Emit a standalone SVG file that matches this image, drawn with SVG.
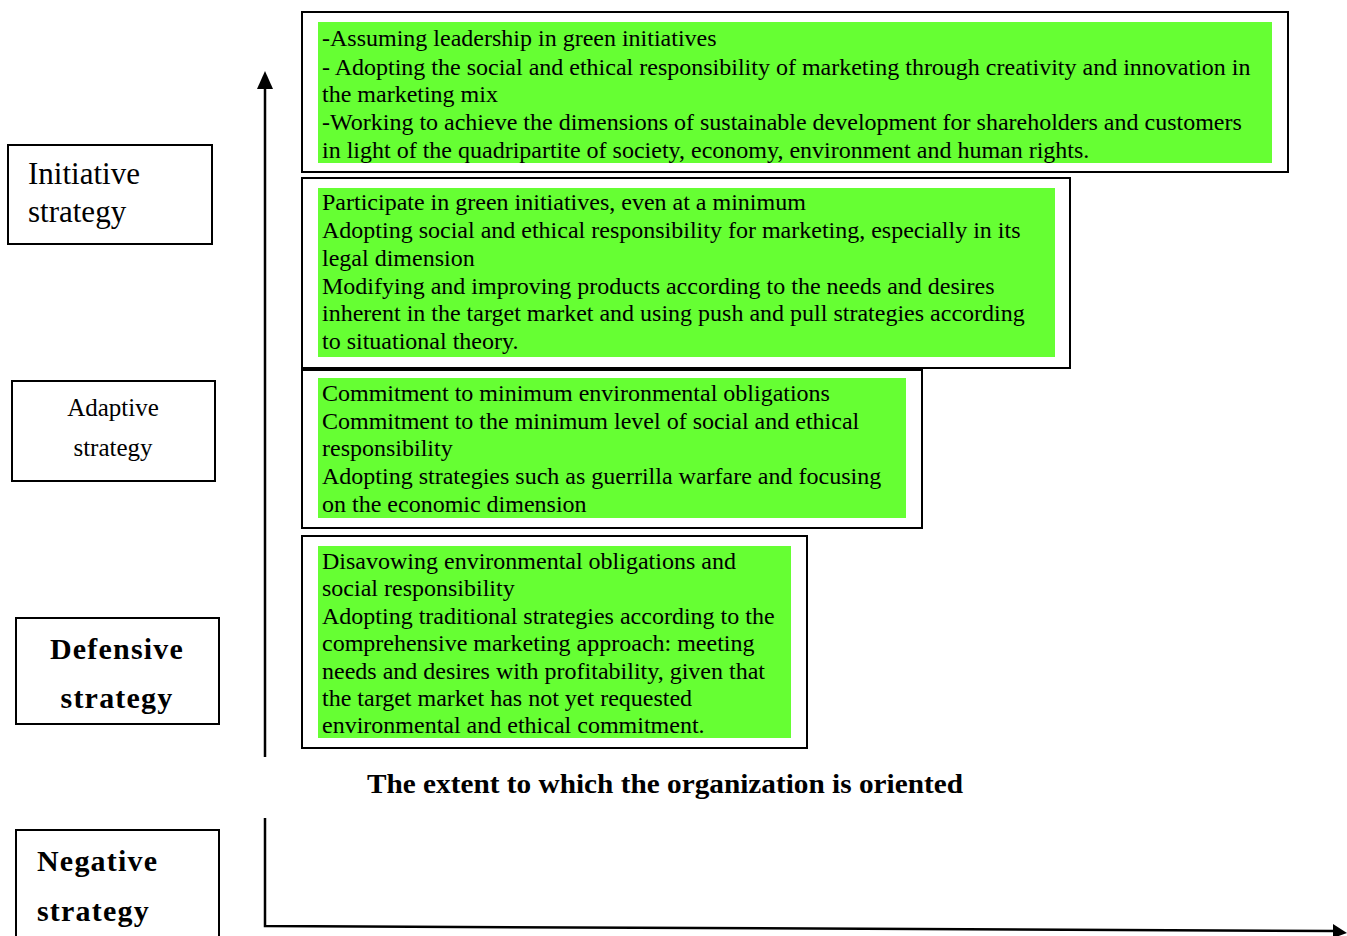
<svg xmlns="http://www.w3.org/2000/svg" width="1347" height="936" viewBox="0 0 1347 936">
<style>
.box{fill:#fff;stroke:#000;stroke-width:2}
.green{fill:#66ff33}
.t{font-family:"Liberation Serif",serif;font-size:24px;fill:#000}
.lbl{font-family:"Liberation Serif",serif;fill:#000}
.ax{stroke:#000;stroke-width:2.5;fill:none}
</style>
<g id="connectors">
<line class="ax" x1="265" y1="757" x2="265" y2="88"/>
<path d="M257,89 L265,71 L273,89 Z" fill="#000"/>
<polyline class="ax" points="265,818 265,926 1334,931"/>
<path d="M1333,924 L1347,933 L1333,938 Z" fill="#000"/>
</g>
<g id="box1">
<rect class="box" x="302" y="12" width="986" height="160"/>
<rect class="green" x="318" y="22" width="954" height="141"/>
<text class="t" x="322" y="46">-Assuming leadership in green initiatives</text>
<text class="t" x="322" y="75">- Adopting the social and ethical responsibility of marketing through creativity and innovation in</text>
<text class="t" x="322" y="102">the marketing mix</text>
<text class="t" x="322" y="130">-Working to achieve the dimensions of sustainable development for shareholders and customers</text>
<text class="t" x="322" y="158">in light of the quadripartite of society, economy, environment and human rights.</text>
</g>
<g id="box2">
<rect class="box" x="302" y="178" width="768" height="190"/>
<rect class="green" x="318" y="188" width="737" height="169"/>
<text class="t" x="322" y="210">Participate in green initiatives, even at a minimum</text>
<text class="t" x="322" y="238">Adopting social and ethical responsibility for marketing, especially in its</text>
<text class="t" x="322" y="266">legal dimension</text>
<text class="t" x="322" y="294">Modifying and improving products according to the needs and desires</text>
<text class="t" x="322" y="321">inherent in the target market and using push and pull strategies according</text>
<text class="t" x="322" y="349">to situational theory.</text>
</g>
<g id="box3">
<rect class="box" x="302" y="370" width="620" height="158"/>
<rect class="green" x="318" y="378" width="588" height="140"/>
<text class="t" x="322" y="401">Commitment to minimum environmental obligations</text>
<text class="t" x="322" y="429">Commitment to the minimum level of social and ethical</text>
<text class="t" x="322" y="456">responsibility</text>
<text class="t" x="322" y="484">Adopting strategies such as guerrilla warfare and focusing</text>
<text class="t" x="322" y="512">on the economic dimension</text>
</g>
<g id="box4">
<rect class="box" x="302" y="536" width="505" height="212"/>
<rect class="green" x="318" y="546" width="473" height="192"/>
<text class="t" x="322" y="569">Disavowing environmental obligations and</text>
<text class="t" x="322" y="596">social responsibility</text>
<text class="t" x="322" y="624">Adopting traditional strategies according to the</text>
<text class="t" x="322" y="651">comprehensive marketing approach: meeting</text>
<text class="t" x="322" y="679">needs and desires with profitability, given that</text>
<text class="t" x="322" y="706">the target market has not yet requested</text>
<text class="t" x="322" y="733">environmental and ethical commitment.</text>
</g>
<g id="initiative">
<rect class="box" x="8" y="145" width="204" height="99"/>
<text class="lbl" x="28" y="184" font-size="31">Initiative</text>
<text class="lbl" x="28" y="222" font-size="31">strategy</text>
</g>
<g id="adaptive">
<rect class="box" x="12" y="381" width="203" height="100"/>
<text class="lbl" x="113" y="416" font-size="25" text-anchor="middle">Adaptive</text>
<text class="lbl" x="113" y="456" font-size="25" text-anchor="middle">strategy</text>
</g>
<g id="defensive">
<rect class="box" x="16" y="618" width="203" height="106"/>
<text class="lbl" x="117" y="659" font-size="30" font-weight="bold" text-anchor="middle" letter-spacing="1.2">Defensive</text>
<text class="lbl" x="117" y="708" font-size="30" font-weight="bold" text-anchor="middle" letter-spacing="1.2">strategy</text>
</g>
<g id="negative">
<rect class="box" x="16" y="830" width="203" height="120"/>
<text class="lbl" x="37" y="871" font-size="30" font-weight="bold" letter-spacing="1.2">Negative</text>
<text class="lbl" x="37" y="921" font-size="30" font-weight="bold" letter-spacing="1.2">strategy</text>
</g>
<g id="axis-title">
<text class="lbl" x="367" y="793" font-size="27" font-weight="bold" textLength="596" lengthAdjust="spacingAndGlyphs">The extent to which the organization is oriented</text>
</g>
</svg>
